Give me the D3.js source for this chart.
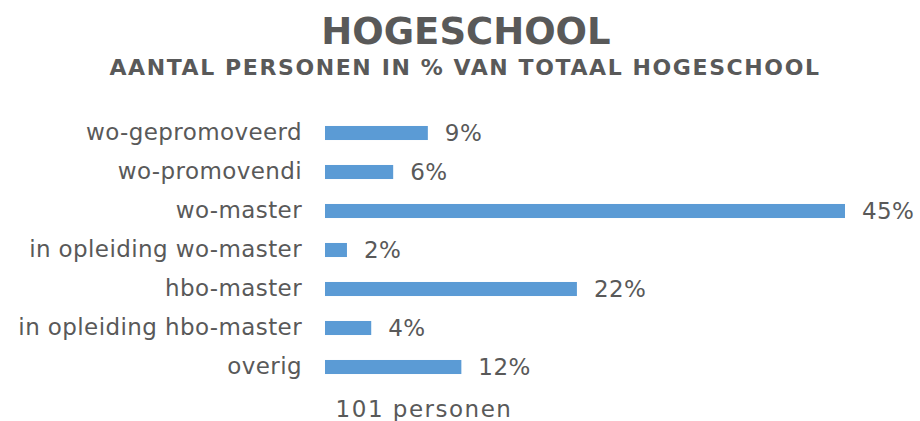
<!DOCTYPE html>
<html>
<head>
<meta charset="utf-8">
<script src="https://cdn.jsdelivr.net/npm/d3@7"></script>
<style>
  body { margin: 0; background: #fff; }
  text { font-family: "DejaVu Sans", Verdana, sans-serif; fill: #595959; }
</style>
</head>
<body>
<svg class="chart" width="920" height="421"></svg>
<script>
var categories = ['wo-gepromoveerd', 'wo-promovendi', 'wo-master', 'in opleiding wo-master',
    'hbo-master', 'in opleiding hbo-master', 'overig']
var values = [8.9, 5.9, 45, 1.9, 21.8, 4.0, 11.8]
var valueLabels = ['9%', '6%', '45%', '2%', '22%', '4%', '12%']
var title = 'HOGESCHOOL'
var subtitle = 'AANTAL PERSONEN IN % VAN TOTAAL HOGESCHOOL'
var axisTitle = '101 personen'

var svg = d3.select('.chart')

var xScale = d3.scaleLinear().domain([0, 45]).range([325, 845])
var yScale = d3.scaleBand().domain(categories).range([113.5, 386.5]).paddingInner(0.64).paddingOuter(0.32)

svg.append('text')
    .text(title)
    .attr('x', 466).attr('y', 44)
    .attr('text-anchor', 'middle')
    .style('font-size', '37px')
    .style('font-weight', 'bold')

svg.append('text')
    .text(subtitle)
    .attr('x', 465).attr('y', 75)
    .attr('text-anchor', 'middle')
    .style('font-size', '22px')
    .style('font-weight', 'bold')
    .style('letter-spacing', '1.6px')

var yAxis = d3.axisLeft(yScale).tickSize(0).tickPadding(23)
var yG = svg.append('g')
    .attr('transform', 'translate(' + xScale(0) + ', 0)')
    .call(yAxis)
yG.select('.domain').remove()
yG.selectAll('text')
    .style('font-size', '23px')
    .style('letter-spacing', '0.4px')
    .style('font-family', '"DejaVu Sans", Verdana, sans-serif')
    .attr('fill', '#595959')

svg.selectAll('.bar').data(values)
    .enter()
    .append('rect')
    .attr('class', 'bar')
    .attr('x', xScale(0))
    .attr('y', (d, i) => yScale(categories[i]))
    .attr('width', (d) => xScale(d) - xScale(0))
    .attr('height', yScale.bandwidth())
    .style('fill', '#5B9BD5')

svg.selectAll('.value-label').data(values)
    .enter()
    .append('text')
    .attr('class', 'value-label')
    .text((d, i) => valueLabels[i])
    .attr('x', (d) => xScale(d) + 17)
    .attr('y', (d, i) => yScale(categories[i]) + yScale.bandwidth() / 2)
    .attr('dy', '0.35em')
    .style('font-size', '23px')
    .style('letter-spacing', '0.4px')

svg.append('text')
    .text(axisTitle)
    .attr('x', 424).attr('y', 417)
    .attr('text-anchor', 'middle')
    .style('font-size', '23px')
    .style('letter-spacing', '1.5px')
</script>
</body>
</html>
